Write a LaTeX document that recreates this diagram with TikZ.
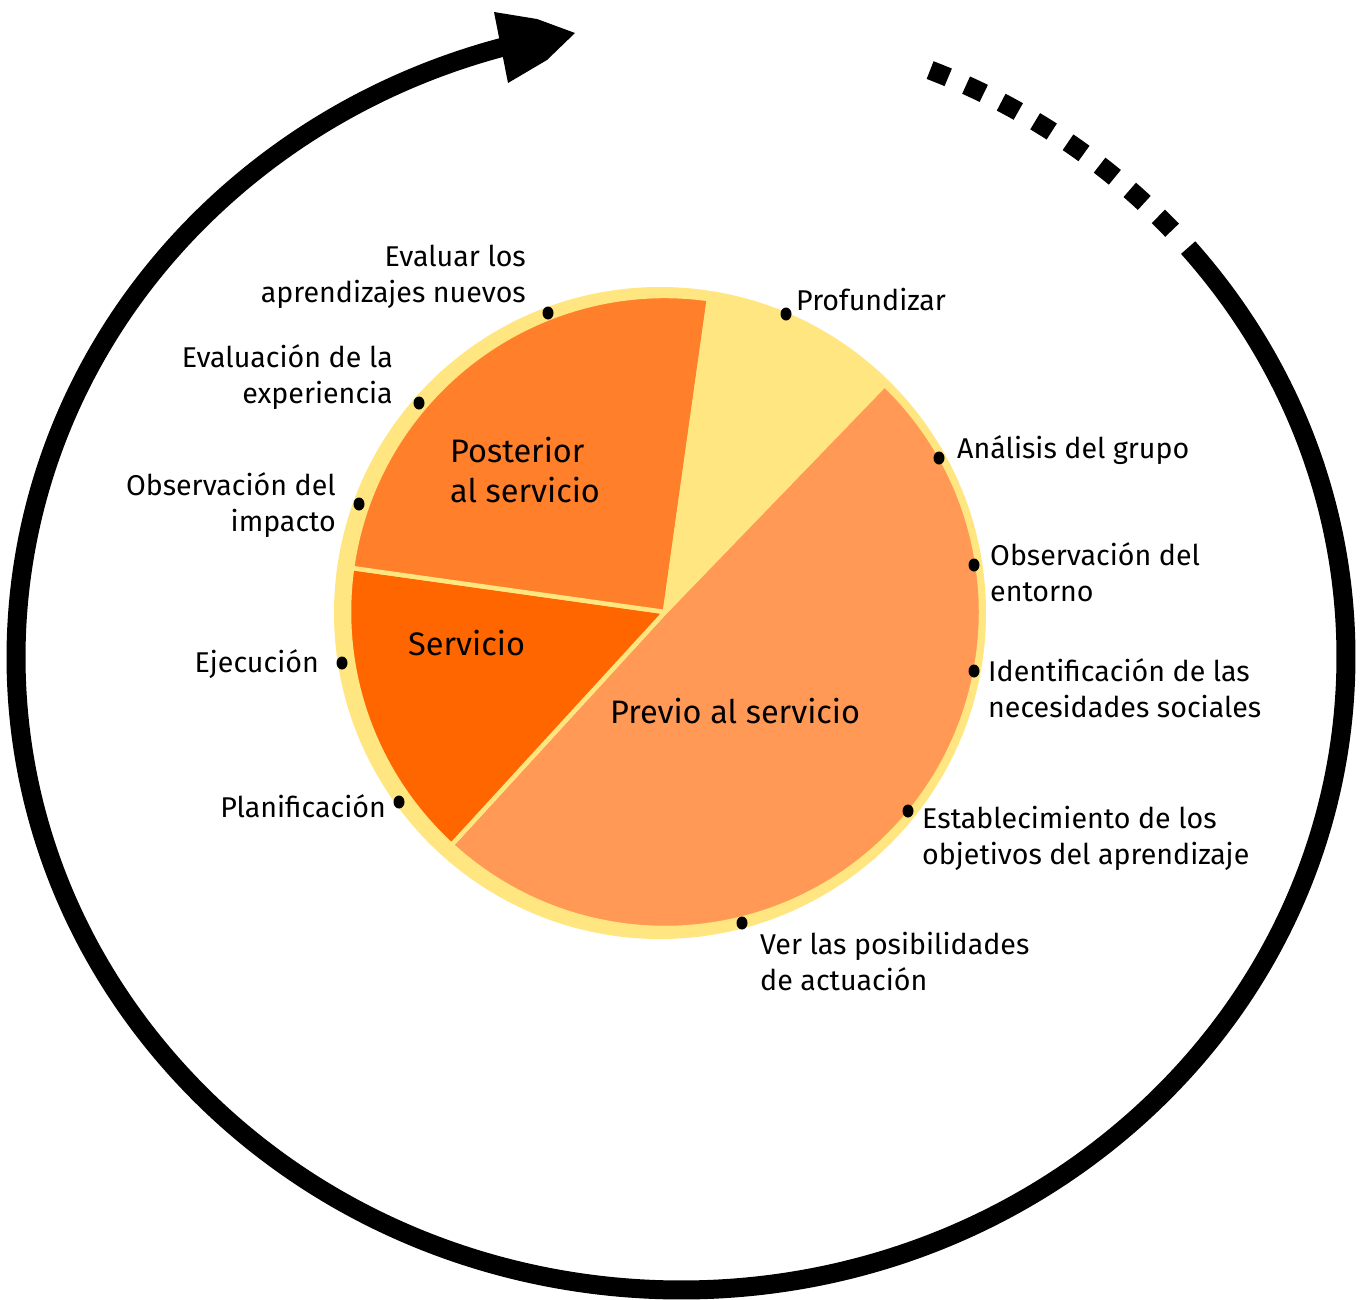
\documentclass[tikz,border=0pt]{standalone}
\usepackage{fontspec}
\setmainfont{Fira Sans}
\usetikzlibrary{shapes.geometric}
\definecolor{ringyellow}{HTML}{FFE680}
\definecolor{postcol}{HTML}{FF7F2A}
\definecolor{servcol}{HTML}{FF6600}
\definecolor{prevcol}{HTML}{FF9955}
\begin{document}
\begin{tikzpicture}[x=1pt,y=1pt,
  slice/.style={draw=ringyellow,line width=4.5pt,line join=round},
  cycleline/.style={draw=black,line width=19pt},
  cycledash/.style={draw=black,line width=19pt,dash pattern=on 19.5pt off 19.5pt},
  marker/.style={ellipse,fill=black,inner sep=0pt,minimum width=11pt,minimum height=13pt},
  lab/.style={inner sep=0pt,font=\fontsize{28.6}{36}\selectfont},
  leftlab/.style={lab,anchor=base east,align=right},
  rightlab/.style={lab,anchor=base west,align=left},
  phase/.style={inner sep=0pt,anchor=base west,align=left,font=\fontsize{32.5}{40}\selectfont}]
\useasboundingbox (0,0) rectangle (1367,-1300);

% pie background ring
\coordinate (ringc) at (660,-613);
\coordinate (hub) at (665,-612);
\fill[ringyellow] (ringc) circle[radius=326];

% sectors
\path[slice,fill=prevcol] (hub) -- ++(46:316) arc[start angle=46,end angle=-132.5,radius=316] -- cycle;
\path[slice,fill=servcol] (hub) -- ++(172:316) arc[start angle=172,end angle=227.5,radius=316] -- cycle;
\path[slice,fill=postcol] (hub) -- ++(82:316) arc[start angle=82,end angle=172,radius=316] -- cycle;
\path[slice,fill=ringyellow] (hub) -- ++(46:316) arc[start angle=46,end angle=82,radius=316] -- cycle;

% phase names (anchored on the baseline of their last line)
\node[phase] (post) at (450,-502) {Posterior\\al servicio};
\node[phase] (serv) at (408,-655) {Servicio};
\node[phase] (prev) at (610,-723) {Previo al servicio};

% markers on the ring
\node[marker] (m1) at (548,-313) {};
\node[marker] (m2) at (419,-403) {};
\node[marker] (m3) at (359,-504) {};
\node[marker] (m4) at (342,-663) {};
\node[marker] (m5) at (399,-802) {};
\node[marker] (m6) at (786,-314) {};
\node[marker] (m7) at (939,-458) {};
\node[marker] (m8) at (974,-565) {};
\node[marker] (m9) at (974,-671) {};
\node[marker] (m10) at (908,-811) {};
\node[marker] (m11) at (742,-923) {};

% step labels (anchored on the baseline of their last line)
\node[leftlab] (t1) at (526,-302) {Evaluar los\\aprendizajes nuevos};
\node[leftlab] (t2) at (393,-403) {Evaluación de la\\experiencia};
\node[leftlab] (t3) at (336,-531) {Observación del\\impacto};
\node[leftlab] (t4) at (319,-672) {Ejecución};
\node[leftlab] (t5) at (386,-817) {Planificación};
\node[rightlab] (t6) at (796,-310) {Profundizar};
\node[rightlab] (t7) at (957,-458) {Análisis del grupo};
\node[rightlab] (t8) at (990,-601) {Observación del\\entorno};
\node[rightlab] (t9) at (988,-717) {Identificación de las\\necesidades sociales};
\node[rightlab] (t10) at (922,-864) {Establecimiento de los\\objetivos del aprendizaje};
\node[rightlab] (t11) at (760,-990) {Ver las posibilidades\\de actuación};

% surrounding cycle arrow
\coordinate (cyc) at (681,-657);
\draw[cycleline] ([shift={(40.3:665 and 633)}]cyc)
  arc[start angle=40.3,end angle=-255.5,x radius=665,y radius=633];
\draw[cycledash] ([shift={(68:665 and 633)}]cyc)
  arc[start angle=68,end angle=42.2,x radius=665,y radius=633];
\fill[black] (494,-12) -- (537,-19) -- (575,-33) -- (547,-60) -- (508,-83) -- cycle;
\end{tikzpicture}
\end{document}
